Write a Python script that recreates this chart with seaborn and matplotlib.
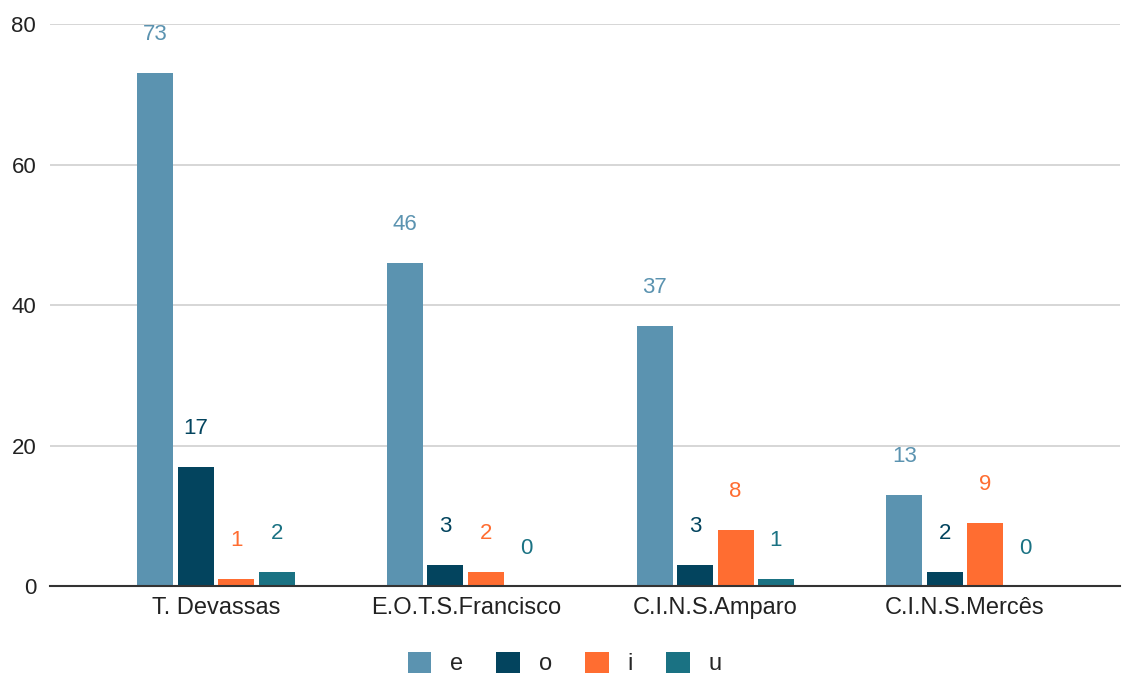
import numpy as np
import pandas as pd
import matplotlib
matplotlib.use("Agg")
import matplotlib.pyplot as plt
import seaborn as sns

# data
schools = ["T. Devassas", "E.O.T.S.Francisco", "C.I.N.S.Amparo", "C.I.N.S.Mercês"]
vowels = ["e", "o", "i", "u"]
count_e = [73, 46, 37, 13]
count_o = [17, 3, 3, 2]
count_i = [1, 2, 8, 9]
count_u = [2, 0, 1, 0]

colors = ["#5b93b0", "#03445e", "#ff6d31", "#1a7283"]

df = pd.DataFrame({
    "school": schools * 4,
    "vowel": np.repeat(vowels, len(schools)),
    "count": count_e + count_o + count_i + count_u,
})

sns.set_theme(style="white")
plt.rcParams["font.family"] = ["Liberation Sans", "DejaVu Sans"]

fig = plt.figure(figsize=(11.22, 6.77), dpi=100)
ax = fig.add_axes([0.0446, 0.134, 0.9534, 0.8305])

sns.barplot(data=df, x="school", y="count", hue="vowel", hue_order=vowels,
            order=schools, palette=colors, width=0.648, gap=0.11,
            saturation=1, linewidth=0, ax=ax, legend=True)

for cont, col in zip(ax.containers, colors):
    ax.bar_label(cont, fmt="%d", padding=20, color=col, fontsize=16)

ax.set_ylim(0, 80)
ax.set_xlim(-0.665, 3.62)
ax.set_yticks([0, 20, 40, 60, 80])
ax.yaxis.grid(True, color="#d0d0d0", linewidth=1.2)
ax.set_axisbelow(True)
for s in ["top", "right", "left"]:
    ax.spines[s].set_visible(False)
ax.spines["bottom"].set_color("#333333")
ax.spines["bottom"].set_linewidth(1.5)
ax.spines["bottom"].set_zorder(5)
ax.set_xlabel("")
ax.set_ylabel("")
ax.tick_params(axis="both", length=0, labelsize=16, colors="#222222")
ax.tick_params(axis="x", labelsize=17, pad=8)
ax.tick_params(axis="y", pad=10)

ax.legend(loc="upper center", bbox_to_anchor=(0.481, -0.095), ncol=4, frameon=False,
          fontsize=17, handlelength=1.0, handleheight=1.0, columnspacing=1.4,
          handletextpad=0.8, borderpad=0)

fig.savefig("out.png", dpi=100)
